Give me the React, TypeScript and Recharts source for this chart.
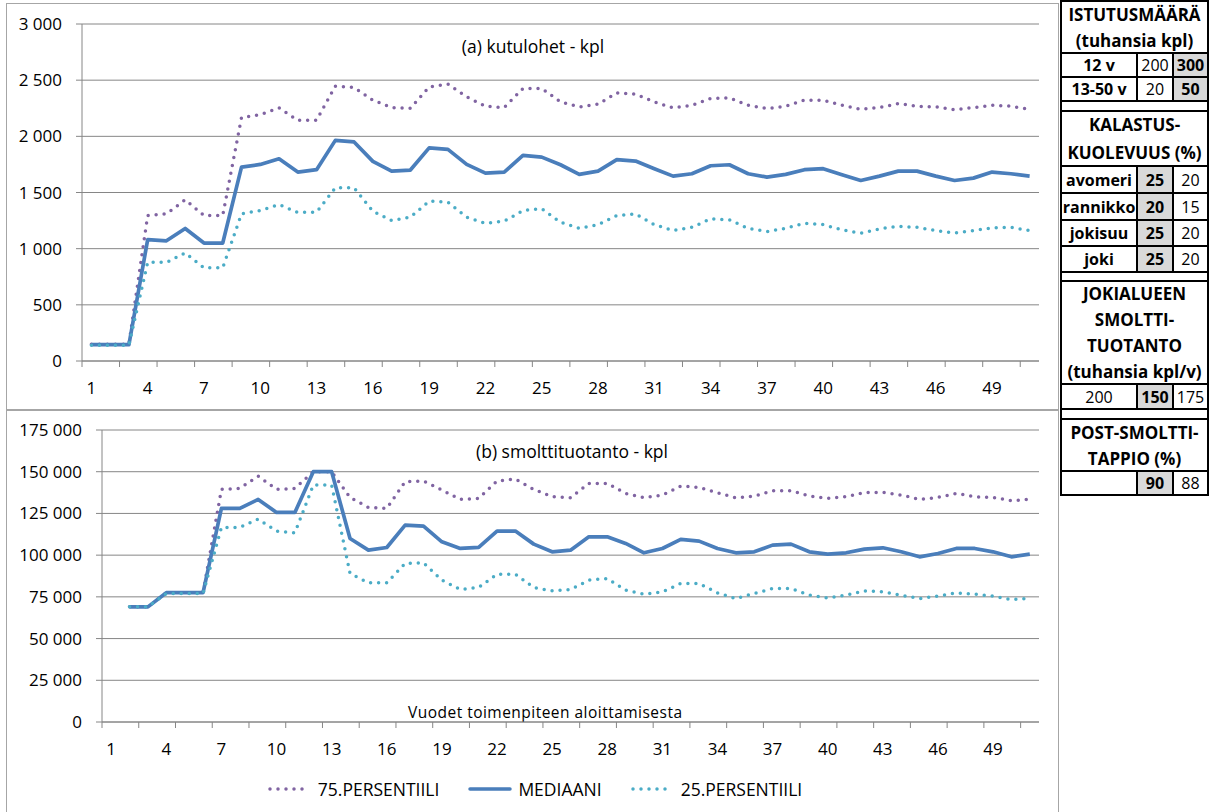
import React from 'react';
import { LineChart, Line, XAxis, YAxis, CartesianGrid, Legend } from 'recharts';

const FONT = '"Open Sans", Lato, "Noto Sans", sans-serif';

// ---------- categories / ticks ----------
const years = [1, 2, 3, 4, 5, 6, 7, 8, 9, 10, 11, 12, 13, 14, 15, 16, 17, 18, 19, 20, 21, 22, 23, 24, 25, 26, 27, 28, 29, 30, 31, 32, 33, 34, 35, 36, 37, 38, 39, 40, 41, 42, 43, 44, 45, 46, 47, 48, 49, 50, 51];
const xLabelTicks = [1, 4, 7, 10, 13, 16, 19, 22, 25, 28, 31, 34, 37, 40, 43, 46, 49];
const xMarkTicks = [0.5, 2.5, 4.5, 6.5, 8.5, 10.5, 12.5, 14.5, 16.5, 18.5, 20.5, 22.5, 24.5, 26.5, 28.5, 30.5, 32.5, 34.5, 36.5, 38.5, 40.5, 42.5, 44.5, 46.5, 48.5, 50.5];
const yTicksA = [0, 500, 1000, 1500, 2000, 2500, 3000];
const yTicksB = [0, 25000, 50000, 75000, 100000, 125000, 150000, 175000];

const seriesNames = ['75.PERSENTIILI', 'MEDIAANI', '25.PERSENTIILI'];
const seriesColors = ['#8064A2', '#4A7EBB', '#4BACC6'];

const titleA = '(a) kutulohet - kpl';
const titleB = '(b) smolttituotanto - kpl';
const xTitle = 'Vuodet toimenpiteen aloittamisesta';

// ---------- (a) kutulohet ----------
const p75A = [150, 150, 150, 1295, 1310, 1435, 1295, 1295, 2167, 2194, 2253, 2143, 2143, 2447, 2435, 2322, 2256, 2250, 2440, 2465, 2351, 2268, 2256, 2426, 2426, 2307, 2262, 2286, 2387, 2375, 2307, 2253, 2277, 2337, 2343, 2277, 2247, 2268, 2322, 2322, 2277, 2241, 2256, 2292, 2268, 2262, 2238, 2256, 2277, 2268, 2241];
const medA = [145, 145, 145, 1080, 1070, 1180, 1050, 1050, 1726, 1750, 1800, 1682, 1703, 1964, 1950, 1777, 1690, 1700, 1897, 1884, 1750, 1673, 1682, 1830, 1815, 1747, 1661, 1690, 1792, 1780, 1712, 1646, 1667, 1738, 1747, 1667, 1637, 1661, 1703, 1712, 1658, 1607, 1646, 1690, 1690, 1646, 1607, 1628, 1682, 1667, 1646];
const p25A = [140, 140, 140, 878, 878, 962, 830, 830, 1310, 1340, 1393, 1322, 1325, 1542, 1542, 1333, 1250, 1280, 1423, 1414, 1280, 1226, 1244, 1340, 1355, 1235, 1181, 1214, 1295, 1310, 1214, 1161, 1190, 1265, 1256, 1181, 1152, 1181, 1226, 1214, 1167, 1137, 1176, 1199, 1190, 1161, 1140, 1161, 1184, 1190, 1161];

// ---------- (b) smolttituotanto ----------
const p75B = [null, 69000, 69000, 77500, 77500, 77500, 139400, 140000, 147400, 139400, 140000, 150000, 150000, 134600, 128600, 128000, 144000, 144400, 139000, 133400, 134000, 144400, 145600, 139400, 135000, 134400, 143000, 143000, 137000, 134400, 136000, 141400, 140600, 137400, 134400, 135400, 138600, 138600, 135400, 134000, 135000, 137600, 137600, 136000, 133400, 134600, 137000, 135000, 134600, 132600, 133600];
const medB = [null, 69000, 69000, 77500, 77500, 77500, 128000, 128000, 133400, 125600, 125600, 150000, 150000, 110000, 103000, 104600, 118000, 117400, 108000, 104000, 104600, 114400, 114400, 106600, 102000, 103000, 111000, 111000, 107000, 101400, 104000, 109400, 108400, 104000, 101400, 102000, 106000, 106600, 102000, 100600, 101400, 103600, 104400, 102000, 99000, 101000, 104000, 104000, 102000, 99000, 100600];
const p25B = [null, 69000, 69000, 77000, 77000, 77000, 116600, 116600, 121600, 114400, 113400, 142000, 142000, 89000, 83400, 83400, 95000, 95400, 85000, 79400, 80600, 88600, 88600, 80600, 78600, 79400, 85000, 86000, 79000, 76600, 78000, 83000, 83000, 77400, 74000, 77000, 80000, 80000, 76000, 74400, 76000, 78600, 78000, 76000, 74000, 75400, 77400, 76600, 75400, 73400, 74000];

const dataA = years.map((y, i) => ({ year: y, p75: p75A[i], med: medA[i], p25: p25A[i] }));
const dataB = years.map((y, i) => ({ year: y, p75: p75B[i], med: medB[i], p25: p25B[i] }));

// ---------- side table ----------
const tableHeaders = [
  ['ISTUTUSMÄÄRÄ', '(tuhansia kpl)'],
  ['KALASTUS-', 'KUOLEVUUS (%)'],
  ['JOKIALUEEN', 'SMOLTTI-', 'TUOTANTO', '(tuhansia kpl/v)'],
  ['POST-SMOLTTI-', 'TAPPIO (%)'],
];
type Cell = { t: string; b?: boolean; g?: boolean };
const tableRows: Cell[][][] = [
  [
    [{ t: '12 v', b: true }, { t: '200' }, { t: '300', b: true, g: true }],
    [{ t: '13-50 v', b: true }, { t: '20' }, { t: '50', b: true, g: true }],
  ],
  [
    [{ t: 'avomeri', b: true }, { t: '25', b: true, g: true }, { t: '20' }],
    [{ t: 'rannikko', b: true }, { t: '20', b: true, g: true }, { t: '15' }],
    [{ t: 'jokisuu', b: true }, { t: '25', b: true, g: true }, { t: '20' }],
    [{ t: 'joki', b: true }, { t: '25', b: true, g: true }, { t: '20' }],
  ],
  [[{ t: '200' }, { t: '150', b: true, g: true }, { t: '175' }]],
  [[{ t: '' }, { t: '90', b: true, g: true }, { t: '88' }]],
];
// layout of the table (pixels)
const TX = [1061, 1137, 1173, 1208];
const blockLayout = [
  { head: [1, 53], rows: [[53, 77], [77, 101]], spacer: 111 },
  { head: [111, 166], rows: [[166, 193], [193, 220], [220, 246], [246, 272]], spacer: 281 },
  { head: [281, 384], rows: [[384, 409]], spacer: 419 },
  { head: [419, 471], rows: [[471, 495]], spacer: null as number | null },
];

const fmt = (v: number) => String(v).replace(/\B(?=(\d{3})+(?!\d))/g, ' ');
const GRID = '#868686';

const XTick = (props: any) => {
  const { x, y, payload } = props;
  const v = payload.value;
  if (xLabelTicks.includes(v)) {
    return (
      <text x={x} y={y + 21} dy="0.35em" textAnchor="middle" fill="#000" fontSize={17} fontFamily={FONT}>
        {v}
      </text>
    );
  }
  return <line x1={x} x2={x} y1={y - 6} y2={y} stroke={GRID} strokeWidth={1} />;
};

const allXTicks = [...xLabelTicks, ...xMarkTicks].sort((a, b) => a - b);

const seriesLines = () => [
  <Line key="p75" type="linear" dataKey="p75" name={seriesNames[0]} stroke={seriesColors[0]} strokeWidth={3.5}
    strokeDasharray="0 8" strokeLinecap="round" dot={false} activeDot={false} isAnimationActive={false} />,
  <Line key="med" type="linear" dataKey="med" name={seriesNames[1]} stroke={seriesColors[1]} strokeWidth={3.7}
    strokeLinejoin="round" dot={false} activeDot={false} isAnimationActive={false} />,
  <Line key="p25" type="linear" dataKey="p25" name={seriesNames[2]} stroke={seriesColors[2]} strokeWidth={3.5}
    strokeDasharray="0 8" strokeLinecap="round" dot={false} activeDot={false} isAnimationActive={false} />,
];

const LegendContent = () => (
  <div style={{ height: 24, display: 'flex', justifyContent: 'center', alignItems: 'center', paddingLeft: 30, fontFamily: FONT, fontSize: 17.5, color: '#000' }}>
    {seriesNames.map((n, i) => (
      <div key={n} style={{ display: 'flex', alignItems: 'center', marginRight: i < 2 ? 28 : 0 }}>
        <svg width={46} height={10}>
          <line x1={3} x2={43} y1={5} y2={5} stroke={seriesColors[i]} strokeWidth={3.5}
            strokeLinecap="round" strokeDasharray={i === 1 ? undefined : '0 8'} />
        </svg>
        <span style={{ marginLeft: 5 }}>{n}</span>
      </div>
    ))}
  </div>
);

const xAxisCommon = {
  type: 'number' as const,
  dataKey: 'year',
  domain: [0.5, 51.5],
  ticks: allXTicks,
  interval: 0 as const,
  tickSize: 6,
  tickMargin: 0,
  tickLine: { stroke: 'none' },
  axisLine: { stroke: GRID },
  tick: <XTick />,
  allowDecimals: true,
};

export default function App() {
  return (
    <div style={{ position: 'absolute', left: 0, top: 0, width: 1211, height: 812, background: '#fff', overflow: 'hidden', fontFamily: FONT }}>
      {/* chart frames */}
      <div style={{ position: 'absolute', left: 6, top: 3, width: 1051, height: 406, border: '1px solid #A6A6A6' }} />
      <div style={{ position: 'absolute', left: 6, top: 409, width: 1051, height: 420, border: '1px solid #A6A6A6' }} />

      <div style={{ position: 'absolute', left: 0, top: 0 }}>
        <LineChart width={1058} height={410} data={dataA} margin={{ top: 24, right: 19, bottom: 0, left: 0 }}>
          <CartesianGrid vertical={false} stroke={GRID} strokeWidth={1} />
          <XAxis {...xAxisCommon} height={49} />
          <YAxis domain={[0, 3000]} ticks={yTicksA} interval={0} width={82} tickSize={6} tickMargin={14}
            tickFormatter={fmt} tick={{ fill: '#000', fontSize: 17, fontFamily: FONT }}
            axisLine={{ stroke: GRID }} tickLine={{ stroke: GRID }} />
          {seriesLines()}
          <text x={533} y={47} dy="0.35em" textAnchor="middle" fontSize={17.5} fontFamily={FONT} fill="#000">{titleA}</text>
        </LineChart>
      </div>

      <div style={{ position: 'absolute', left: 0, top: 410 }}>
        <LineChart width={1058} height={402} data={dataB} margin={{ top: 20, right: 19, bottom: 11, left: 0 }}>
          <CartesianGrid vertical={false} stroke={GRID} strokeWidth={1} />
          <XAxis {...xAxisCommon} height={55} />
          <YAxis domain={[0, 175000]} ticks={yTicksB} interval={0} width={102} tickSize={6} tickMargin={14}
            tickFormatter={fmt} tick={{ fill: '#000', fontSize: 17, fontFamily: FONT }}
            axisLine={{ stroke: GRID }} tickLine={{ stroke: GRID }} />
          {seriesLines()}
          <Legend verticalAlign="bottom" content={<LegendContent />} />
          <text x={572} y={42} dy="0.35em" textAnchor="middle" fontSize={17.5} fontFamily={FONT} fill="#000">{titleB}</text>
          <text x={545} y={303} dy="0.35em" textAnchor="middle" fontSize={15.5} fontFamily={FONT} fill="#000"
            textLength={274} lengthAdjust="spacing">{xTitle}</text>
        </LineChart>
      </div>

      {/* side table */}
      {blockLayout.map((bl, bi) => {
        const headH = (bl.head[1] - bl.head[0]) / tableHeaders[bi].length;
        return (
          <React.Fragment key={bi}>
            {tableHeaders[bi].map((h, li) => (
              <div key={'h' + li} style={{ position: 'absolute', left: TX[0], width: TX[3] - TX[0], top: bl.head[0] + li * headH, height: headH,
                display: 'flex', alignItems: 'center', justifyContent: 'center', fontWeight: 700, fontSize: 17, color: '#000', whiteSpace: 'nowrap' }}>{h}</div>
            ))}
            {tableRows[bi].map((row, ri) => row.map((c, ci) => (
              <div key={'c' + ri + '_' + ci} style={{ position: 'absolute', left: TX[ci], width: TX[ci + 1] - TX[ci], top: bl.rows[ri][0], height: bl.rows[ri][1] - bl.rows[ri][0],
                background: c.g ? '#D9D9D9' : '#fff', display: 'flex', alignItems: 'center', justifyContent: 'center',
                fontWeight: c.b ? 700 : 400, fontSize: 16, color: '#000', whiteSpace: 'nowrap' }}>{c.t}</div>
            )))}
            {/* horizontal lines */}
            {[bl.head[0], bl.head[1], ...bl.rows.map(r => r[1]), ...(bl.spacer ? [bl.spacer] : [])].map((yy, k) => (
              <div key={'hl' + k} style={{ position: 'absolute', left: TX[0] - 1, width: TX[3] - TX[0] + 2, top: yy - 1, height: 2, background: '#000' }} />
            ))}
            {/* inner verticals */}
            {bl.rows.map((r, ri) => [TX[1], TX[2]].map((xx, k) => (
              <div key={'vl' + ri + '_' + k} style={{ position: 'absolute', left: xx - 1, width: 2, top: r[0], height: r[1] - r[0], background: '#000' }} />
            )))}
          </React.Fragment>
        );
      })}
      <div style={{ position: 'absolute', left: TX[0] - 1, width: 2, top: 0, height: 496, background: '#000' }} />
      <div style={{ position: 'absolute', left: TX[3] - 1, width: 2, top: 0, height: 496, background: '#000' }} />
    </div>
  );
}
